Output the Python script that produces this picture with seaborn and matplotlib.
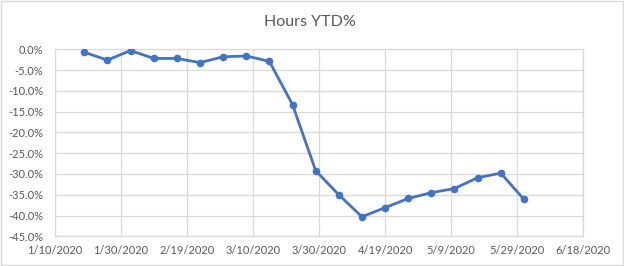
import matplotlib
matplotlib.use("Agg")
import matplotlib.pyplot as plt
import matplotlib.dates as mdates
from matplotlib.ticker import FuncFormatter, FixedLocator
from matplotlib.patches import Rectangle
import seaborn as sns
import pandas as pd

dates = pd.date_range("2020-01-19", periods=20, freq="7D")
hours_ytd = [-0.7, -2.6, -0.3, -2.2, -2.2, -3.2, -1.8, -1.6, -2.9, -13.3,
             -29.2, -35.0, -40.3, -38.1, -35.9, -34.5, -33.5, -30.9, -29.8, -36.1]
tick_dates = pd.date_range("2020-01-10", "2020-06-18", freq="20D")
y_ticks = [0, -5, -10, -15, -20, -25, -30, -35, -40, -45]

df = pd.DataFrame({"date": dates, "value": hours_ytd})

sns.set_theme(style="white")
plt.rcParams["font.family"] = ["Lato", "DejaVu Sans"]

fig = plt.figure(figsize=(6.24, 2.66), dpi=100)
ax = fig.add_axes([54.5 / 624, 1 - 236.3 / 266, (583.4 - 54.5) / 624, (236.3 - 49.3) / 266])

grid_c = "#d9d9d9"
sns.lineplot(data=df, x="date", y="value", ax=ax, color="#4472C4", linewidth=2.0,
             marker="o", markersize=5.5, markeredgewidth=0, zorder=3)

ax.set_xlim(mdates.date2num(tick_dates[0]), mdates.date2num(tick_dates[-1]))
ax.set_ylim(-45, 0)
ax.xaxis.set_major_locator(FixedLocator(mdates.date2num(tick_dates)))
ax.set_xticklabels([f"{d.month}/{d.day}/{d.year}" for d in tick_dates])
ax.yaxis.set_major_locator(FixedLocator(y_ticks))
ax.yaxis.set_major_formatter(FuncFormatter(lambda v, p: f"{v:.1f}%" if v != 0 else "0.0%"))

ax.grid(True, color=grid_c, linewidth=0.9)
ax.set_axisbelow(True)
for s in ax.spines.values():
    s.set_color(grid_c)
    s.set_linewidth(0.9)
ax.tick_params(axis="both", length=0, labelsize=8, colors="#595959")
ax.tick_params(axis="x", pad=6)
ax.tick_params(axis="y", pad=8)
ax.set_xlabel("")
ax.set_ylabel("")

fig.text(310 / 624, 1 - 22 / 266, "Hours YTD%", ha="center", va="center",
         fontsize=11.5, color="#595959")

fig.patches.append(Rectangle((0.0015, 0.003), 0.997, 0.994, transform=fig.transFigure,
                             fill=False, edgecolor="#d9d9d9", linewidth=1))

fig.savefig("out.png", dpi=100)
